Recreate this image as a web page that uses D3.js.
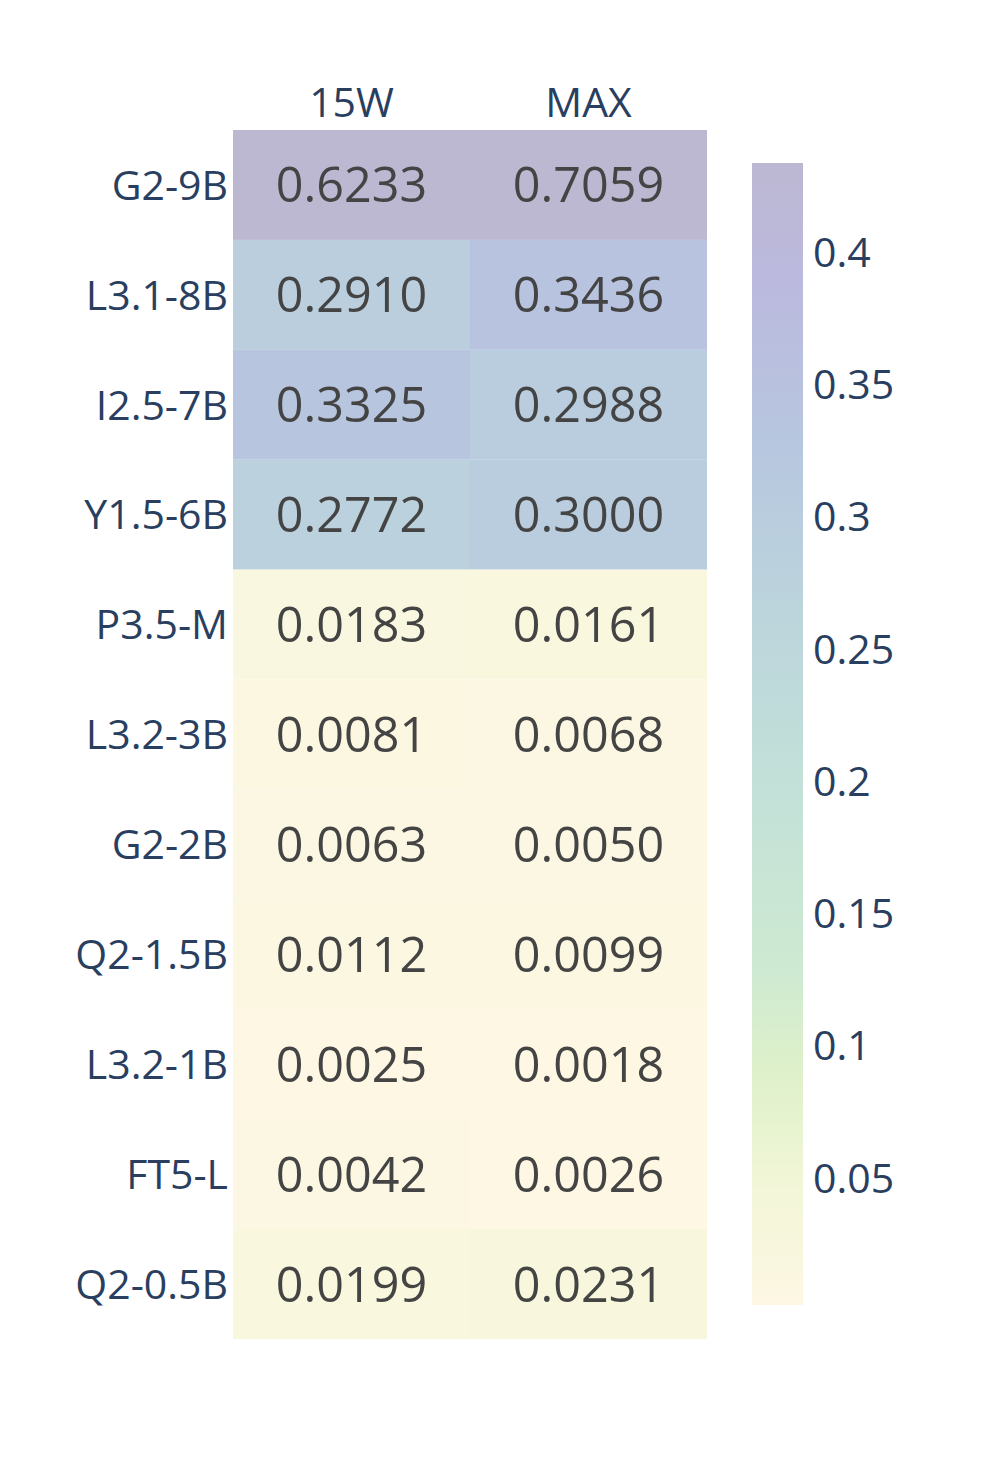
<!DOCTYPE html>
<html>
<head>
<meta charset="utf-8">
<script src="https://cdn.jsdelivr.net/npm/d3@7"></script>
<style>
  body { margin: 0; background: #fff; }
  text { font-family: "Open Sans", sans-serif; }
</style>
</head>
<body>
<div id="chart"></div>
<script>
// Heatmap data
const models = ["G2-9B", "L3.1-8B", "I2.5-7B", "Y1.5-6B", "P3.5-M", "L3.2-3B", "G2-2B", "Q2-1.5B", "L3.2-1B", "FT5-L", "Q2-0.5B"];
const modes = ["15W", "MAX"];
const values15W = [0.6233, 0.2910, 0.3325, 0.2772, 0.0183, 0.0081, 0.0063, 0.0112, 0.0025, 0.0042, 0.0199];
const valuesMAX = [0.7059, 0.3436, 0.2988, 0.3000, 0.0161, 0.0068, 0.0050, 0.0099, 0.0018, 0.0026, 0.0231];
const colorTicks = [0.05, 0.1, 0.15, 0.2, 0.25, 0.3, 0.35, 0.4];
const zRange = [0.0018, 0.4334];

// colour stops (fraction of z range)
const stopPos = [0, 0.1, 0.2, 0.3, 0.45, 0.6, 0.75, 0.9, 1];
const stopCol = ["#fdf7e3", "#f3f6d8", "#dff1ca", "#cde9d2", "#c3e1d8", "#bcd5dc", "#b7c7df", "#bbb9de", "#bcb8d2"];

const W = 997, H = 1473;
const margin = { top: 130, left: 233 };
const gridW = 474, gridH = 1209;

const svg = d3.select("#chart").append("svg")
    .attr("width", W)
    .attr("height", H);

const x = d3.scaleBand().domain(modes).range([margin.left, margin.left + gridW]);
const y = d3.scaleBand().domain(models).range([margin.top, margin.top + gridH]);

const zNorm = d3.scaleLinear().domain(zRange).range([0, 1]).clamp(true);
const colorAt = d3.scaleLinear().domain(stopPos).range(stopCol).interpolate(d3.interpolateRgb);
const color = v => colorAt(zNorm(v));

const cells = [];
models.forEach((m, i) => {
    cells.push({ model: m, mode: "15W", value: values15W[i] });
    cells.push({ model: m, mode: "MAX", value: valuesMAX[i] });
});

svg.selectAll("rect.cell")
    .data(cells)
    .join("rect")
    .attr("class", "cell")
    .attr("x", d => x(d.mode))
    .attr("y", d => y(d.model))
    .attr("width", x.bandwidth())
    .attr("height", y.bandwidth())
    .attr("fill", d => color(d.value));

svg.selectAll("text.val")
    .data(cells)
    .join("text")
    .attr("class", "val")
    .attr("x", d => x(d.mode) + x.bandwidth() / 2)
    .attr("y", d => y(d.model) + y.bandwidth() / 2)
    .attr("dy", "0.36em")
    .attr("text-anchor", "middle")
    .attr("font-size", "48.5px")
    .attr("fill", "#444444")
    .text(d => d.value.toFixed(4));

// axes
const xAxis = svg.append("g")
    .attr("transform", `translate(0,${margin.top})`)
    .call(d3.axisTop(x).tickSize(0).tickPadding(13));
xAxis.select(".domain").remove();
xAxis.selectAll("text")
    .attr("font-size", "41px")
    .attr("font-family", "Open Sans, sans-serif")
    .attr("fill", "#2a3f5f");

const yAxis = svg.append("g")
    .attr("transform", `translate(${margin.left},0)`)
    .call(d3.axisLeft(y).tickSize(0).tickPadding(5));
yAxis.select(".domain").remove();
yAxis.selectAll("text")
    .attr("font-size", "41px")
    .attr("dy", "0.36em")
    .attr("font-family", "Open Sans, sans-serif")
    .attr("fill", "#2a3f5f");

// colour bar
const cbX = 752, cbW = 51, cbTop = 163, cbBottom = 1305;
const defs = svg.append("defs");
const grad = defs.append("linearGradient")
    .attr("id", "cbgrad")
    .attr("x1", 0).attr("y1", 1).attr("x2", 0).attr("y2", 0);
stopPos.forEach((p, i) => {
    grad.append("stop").attr("offset", p).attr("stop-color", stopCol[i]);
});
svg.append("rect")
    .attr("x", cbX)
    .attr("y", cbTop)
    .attr("width", cbW)
    .attr("height", cbBottom - cbTop)
    .attr("fill", "url(#cbgrad)");

const cbScale = d3.scaleLinear().domain(zRange).range([cbBottom, cbTop]);
const cbAxis = svg.append("g")
    .attr("transform", `translate(${cbX + cbW},0)`)
    .call(d3.axisRight(cbScale).tickValues(colorTicks).tickSize(0).tickPadding(10).tickFormat(d3.format("~g")));
cbAxis.select(".domain").remove();
cbAxis.selectAll("text")
    .attr("font-size", "41px")
    .attr("dy", "0.36em")
    .attr("font-family", "Open Sans, sans-serif")
    .attr("fill", "#2a3f5f");
</script>
</body>
</html>
